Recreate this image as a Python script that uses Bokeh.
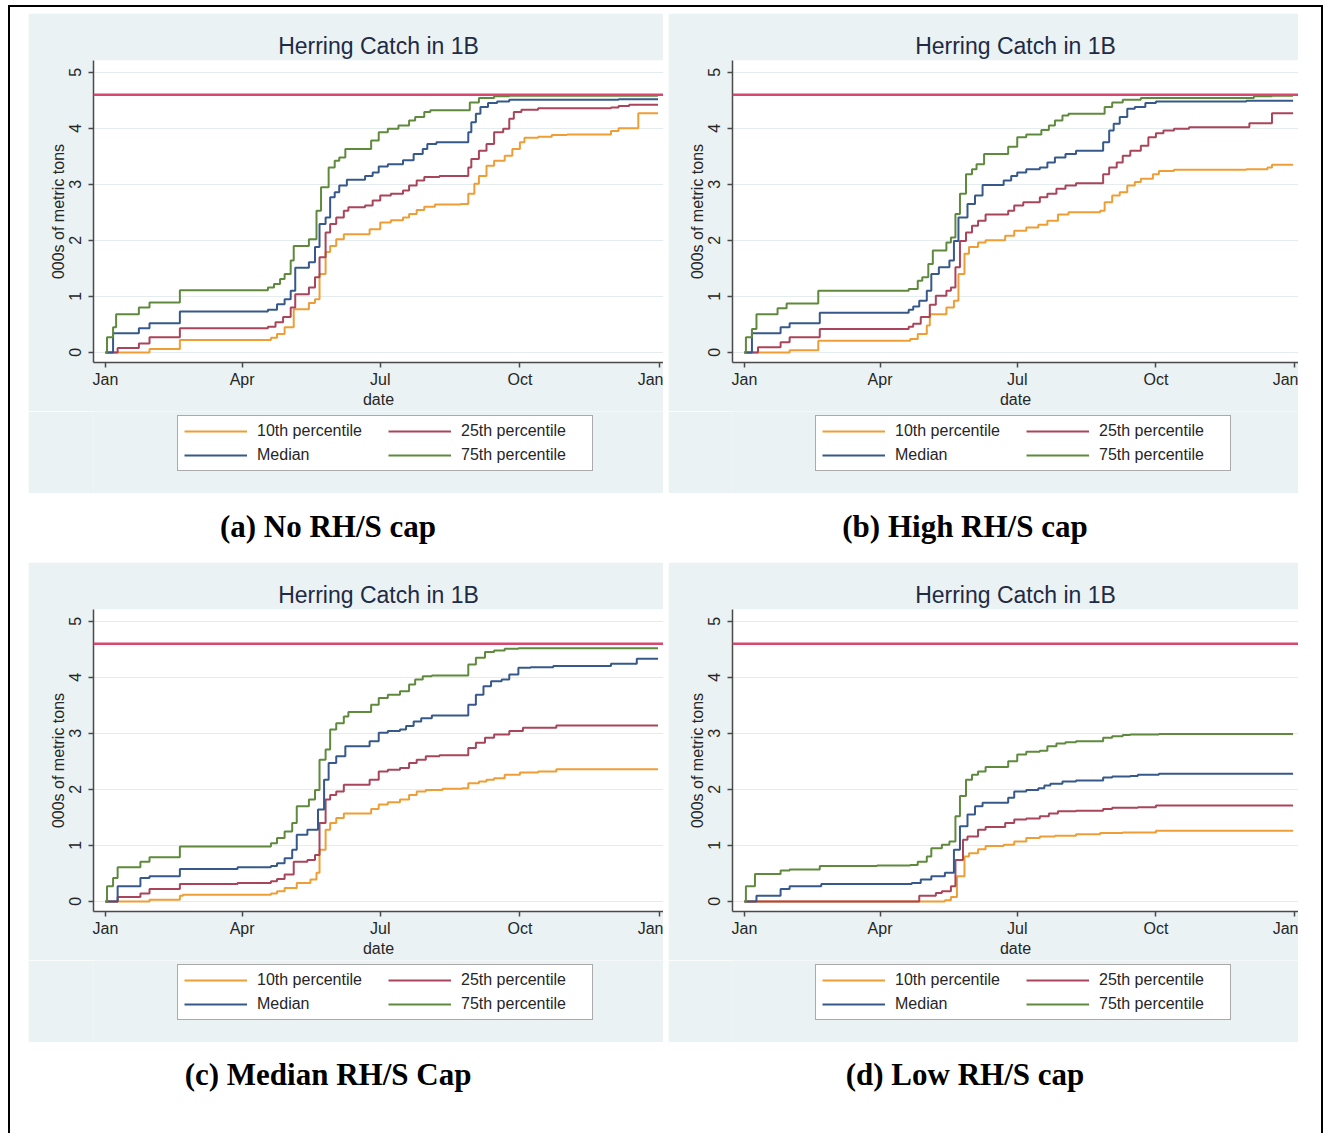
from bokeh.plotting import figure
from bokeh.models import Range1d, FixedTicker, Span, Legend, LegendItem, Div
from bokeh.layouts import column, row
from bokeh.embed import file_html
from bokeh.resources import INLINE

# ---------------- data ----------------
tick_days = [0, 90, 181, 273, 365]
tick_labels = ["Jan", "Apr", "Jul", "Oct", "Jan"]
y_ticks = [0, 1, 2, 3, 4, 5]
cap_value = 4.6
series_names = ["10th percentile", "25th percentile", "Median", "75th percentile"]
captions = ["(a) No RH/S cap", "(b) High RH/S cap", "(c) Median RH/S Cap", "(d) Low RH/S cap"]
chart_title = "Herring Catch in 1B"
x_label = "date"
y_label = "000s of metric tons"

# (a) No RH/S cap
a_p10_days = [0, 29, 49, 109, 113, 118, 124, 134, 138, 141, 145, 148, 152, 157, 174, 181, 188, 196, 200, 205, 210, 217, 234, 239, 243, 246, 251, 256, 263, 268, 273, 276, 285, 294, 304, 333, 338, 351, 364]
a_p10_vals = [0, 0.06, 0.22, 0.26, 0.33, 0.45, 0.77, 0.88, 0.95, 1.40, 1.79, 1.90, 2.02, 2.11, 2.20, 2.32, 2.36, 2.41, 2.47, 2.54, 2.60, 2.64, 2.65, 2.83, 3.01, 3.15, 3.33, 3.42, 3.51, 3.63, 3.75, 3.83, 3.85, 3.88, 3.89, 3.95, 4.00, 4.27, 4.27]
a_p25_days = [0, 8, 22, 29, 49, 107, 112, 117, 122, 125, 134, 138, 141, 145, 148, 152, 157, 160, 171, 176, 181, 188, 196, 200, 205, 210, 220, 239, 241, 246, 251, 256, 262, 266, 269, 274, 285, 333, 338, 345, 364]
a_p25_vals = [0, 0.08, 0.16, 0.27, 0.43, 0.46, 0.54, 0.63, 0.80, 1.04, 1.16, 1.34, 1.70, 2.14, 2.29, 2.41, 2.53, 2.59, 2.62, 2.71, 2.80, 2.83, 2.89, 2.98, 3.07, 3.13, 3.15, 3.30, 3.45, 3.60, 3.72, 3.93, 3.99, 4.17, 4.29, 4.33, 4.36, 4.37, 4.40, 4.42, 4.42]
a_p50_days = [0, 5, 22, 29, 49, 107, 113, 118, 122, 125, 134, 138, 141, 145, 148, 151, 154, 159, 171, 176, 180, 186, 196, 203, 209, 212, 218, 239, 241, 244, 247, 252, 258, 266, 338, 364]
a_p50_vals = [0, 0.34, 0.43, 0.52, 0.73, 0.76, 0.86, 0.95, 1.10, 1.51, 1.61, 1.88, 2.29, 2.41, 2.77, 2.86, 2.98, 3.08, 3.15, 3.21, 3.32, 3.36, 3.43, 3.54, 3.63, 3.72, 3.75, 3.93, 4.11, 4.26, 4.38, 4.45, 4.48, 4.51, 4.52, 4.52]
a_p75_days = [0, 1, 5, 7, 22, 29, 49, 107, 111, 115, 118, 122, 124, 134, 139, 142, 147, 151, 154, 158, 175, 180, 186, 193, 200, 204, 210, 214, 240, 246, 256, 266, 364]
a_p75_vals = [0, 0.27, 0.45, 0.68, 0.80, 0.89, 1.11, 1.16, 1.22, 1.31, 1.40, 1.64, 1.90, 2.02, 2.53, 2.95, 3.30, 3.42, 3.48, 3.63, 3.78, 3.93, 3.99, 4.05, 4.14, 4.20, 4.29, 4.32, 4.46, 4.54, 4.57, 4.58, 4.58]

# (b) High RH/S cap
b_p10_days = [0, 30, 49, 110, 115, 121, 123, 134, 139, 142, 146, 149, 155, 160, 173, 179, 187, 195, 201, 208, 215, 236, 239, 244, 249, 254, 259, 263, 271, 275, 285, 333, 347, 350, 364]
b_p10_vals = [0, 0.04, 0.21, 0.24, 0.33, 0.48, 0.68, 0.80, 0.92, 1.40, 1.76, 1.88, 1.96, 2.00, 2.08, 2.17, 2.23, 2.28, 2.35, 2.46, 2.50, 2.53, 2.68, 2.80, 2.86, 2.98, 3.04, 3.10, 3.18, 3.24, 3.26, 3.27, 3.30, 3.35, 3.35]
b_p25_days = [0, 9, 24, 30, 50, 109, 112, 117, 123, 127, 134, 137, 140, 143, 147, 151, 155, 160, 175, 179, 185, 196, 201, 207, 213, 220, 238, 242, 247, 251, 256, 263, 268, 273, 278, 285, 295, 335, 350, 364]
b_p25_vals = [0, 0.09, 0.18, 0.27, 0.42, 0.46, 0.51, 0.63, 0.85, 1.01, 1.10, 1.16, 1.52, 1.99, 2.14, 2.26, 2.35, 2.46, 2.53, 2.62, 2.68, 2.77, 2.83, 2.92, 2.98, 3.02, 3.18, 3.30, 3.39, 3.51, 3.60, 3.69, 3.84, 3.91, 3.96, 3.99, 4.02, 4.09, 4.27, 4.27]
b_p50_days = [0, 5, 24, 30, 50, 109, 112, 116, 121, 124, 129, 136, 139, 142, 148, 153, 158, 172, 177, 181, 187, 196, 201, 206, 213, 220, 238, 242, 245, 249, 254, 259, 266, 273, 333, 364]
b_p50_vals = [0, 0.34, 0.45, 0.52, 0.71, 0.76, 0.82, 0.92, 1.10, 1.40, 1.52, 1.64, 1.99, 2.41, 2.65, 2.80, 2.99, 3.07, 3.15, 3.21, 3.27, 3.30, 3.39, 3.48, 3.54, 3.60, 3.75, 3.96, 4.08, 4.20, 4.35, 4.38, 4.45, 4.48, 4.49, 4.49]
b_p75_days = [0, 1, 5, 8, 22, 28, 49, 109, 115, 118, 122, 125, 134, 137, 140, 143, 147, 151, 154, 159, 175, 181, 187, 197, 202, 206, 211, 215, 239, 244, 251, 263, 338, 350, 364]
b_p75_vals = [0, 0.27, 0.42, 0.68, 0.79, 0.875, 1.10, 1.13, 1.28, 1.34, 1.58, 1.82, 1.96, 2.05, 2.47, 2.83, 3.18, 3.27, 3.36, 3.54, 3.67, 3.84, 3.89, 3.97, 4.05, 4.14, 4.23, 4.26, 4.38, 4.46, 4.51, 4.54, 4.57, 4.58, 4.58]

# (c) Median RH/S Cap
c_p10_days = [0, 29, 49, 51, 109, 113, 118, 126, 135, 139, 141, 145, 148, 152, 157, 175, 180, 186, 194, 200, 205, 211, 222, 235, 239, 246, 251, 256, 263, 273, 285, 297, 364]
c_p10_vals = [0, 0.03, 0.10, 0.12, 0.14, 0.18, 0.24, 0.33, 0.39, 0.51, 0.92, 1.28, 1.40, 1.49, 1.57, 1.65, 1.73, 1.77, 1.82, 1.90, 1.96, 1.99, 2.01, 2.02, 2.11, 2.14, 2.17, 2.20, 2.26, 2.30, 2.32, 2.36, 2.36]
c_p25_days = [0, 8, 23, 29, 49, 87, 109, 113, 118, 124, 133, 138, 141, 145, 148, 152, 157, 174, 180, 186, 194, 200, 205, 211, 220, 239, 244, 250, 256, 266, 275, 297, 364]
c_p25_vals = [0, 0.08, 0.14, 0.22, 0.31, 0.33, 0.36, 0.40, 0.48, 0.71, 0.74, 0.83, 1.40, 1.82, 1.90, 1.96, 2.08, 2.17, 2.32, 2.35, 2.38, 2.47, 2.53, 2.59, 2.61, 2.74, 2.83, 2.92, 2.98, 3.04, 3.10, 3.14, 3.14]
c_p50_days = [0, 8, 23, 29, 49, 87, 109, 113, 118, 123, 126, 133, 140, 144, 147, 152, 158, 174, 180, 186, 194, 198, 203, 208, 215, 239, 244, 249, 254, 261, 266, 272, 280, 295, 333, 350, 364]
c_p50_vals = [0, 0.27, 0.42, 0.45, 0.58, 0.61, 0.63, 0.68, 0.77, 0.92, 1.19, 1.28, 1.64, 2.17, 2.47, 2.59, 2.77, 2.86, 3.01, 3.04, 3.07, 3.13, 3.21, 3.27, 3.32, 3.51, 3.69, 3.84, 3.93, 3.96, 4.05, 4.17, 4.18, 4.20, 4.24, 4.33, 4.33]
c_p75_days = [0, 1, 5, 8, 23, 29, 49, 109, 113, 118, 123, 126, 134, 138, 141, 145, 148, 152, 157, 160, 175, 180, 186, 194, 200, 204, 209, 215, 239, 244, 250, 256, 263, 272, 364]
c_p75_vals = [0, 0.27, 0.42, 0.61, 0.71, 0.79, 0.98, 1.04, 1.13, 1.25, 1.40, 1.70, 1.82, 1.99, 2.53, 2.71, 3.07, 3.18, 3.30, 3.38, 3.51, 3.63, 3.69, 3.75, 3.87, 3.96, 4.02, 4.03, 4.23, 4.35, 4.45, 4.48, 4.51, 4.52, 4.52]

# (d) Low RH/S cap
d_p10_days = [0, 133, 137, 141, 146, 149, 155, 160, 172, 179, 187, 196, 206, 220, 236, 251, 273, 364]
d_p10_vals = [0, 0.02, 0.08, 0.45, 0.80, 0.86, 0.93, 0.99, 1.01, 1.07, 1.13, 1.16, 1.17, 1.20, 1.22, 1.23, 1.26, 1.26]
d_p25_days = [0, 116, 127, 131, 137, 140, 145, 148, 155, 160, 173, 179, 187, 196, 202, 208, 220, 238, 244, 261, 273, 364]
d_p25_vals = [0, 0.10, 0.15, 0.18, 0.27, 0.74, 1.10, 1.16, 1.28, 1.33, 1.40, 1.46, 1.48, 1.52, 1.57, 1.61, 1.62, 1.65, 1.67, 1.68, 1.71, 1.71]
d_p50_days = [0, 8, 24, 30, 51, 111, 117, 124, 133, 139, 143, 148, 153, 158, 175, 179, 187, 195, 199, 203, 211, 220, 238, 244, 256, 261, 275, 364]
d_p50_vals = [0, 0.10, 0.22, 0.27, 0.31, 0.33, 0.39, 0.45, 0.51, 0.92, 1.34, 1.55, 1.70, 1.76, 1.85, 1.96, 1.99, 2.02, 2.07, 2.10, 2.14, 2.16, 2.21, 2.23, 2.24, 2.26, 2.28, 2.28]
d_p75_days = [0, 1, 7, 24, 30, 50, 88, 110, 115, 121, 124, 131, 136, 140, 143, 147, 151, 155, 160, 175, 181, 187, 196, 201, 207, 213, 220, 238, 244, 251, 256, 275, 364]
d_p75_vals = [0, 0.27, 0.49, 0.55, 0.57, 0.63, 0.64, 0.65, 0.71, 0.80, 0.95, 1.01, 1.07, 1.52, 1.88, 2.17, 2.26, 2.32, 2.40, 2.50, 2.62, 2.67, 2.69, 2.77, 2.82, 2.84, 2.86, 2.92, 2.95, 2.97, 2.98, 2.99, 2.99]

# ---------------- styling ----------------
BG = "#eaf2f3"
COLORS = {"10th percentile": "#ee9e35", "25th percentile": "#a9445a",
          "Median": "#36588a", "75th percentile": "#5f8a3d"}
CAP_COLOR = "#d8476f"
AXIS_COLOR = "#4a4a4a"
TEXT_COLOR = "#262626"
FONT = "Liberation Sans"
LEGEND_ORDER = ["10th percentile", "Median", "25th percentile", "75th percentile"]
PLOT_H = 398
LEG_H = 82


def make_plot(series, width, left):
    p = figure(width=width, height=PLOT_H,
               x_range=Range1d(-7.9, 367.6), y_range=Range1d(-0.18, 5.21),
               output_backend="svg", toolbar_location=None,
               min_border_left=left, min_border_right=0,
               min_border_top=47, min_border_bottom=49,
               background_fill_color="white", border_fill_color=BG,
               outline_line_color=None, title=chart_title)
    p.title.align = "center"
    p.title.offset = 4
    p.title.text_font = FONT
    p.title.text_font_size = "23px"
    p.title.text_font_style = "normal"
    p.title.text_color = "#1f2a44"
    p.title.standoff = 4

    p.xgrid.visible = False
    p.ygrid.ticker = FixedTicker(ticks=y_ticks)
    p.ygrid.grid_line_color = "#e4ecee"
    p.ygrid.grid_line_width = 1

    for ax in (p.xaxis[0], p.yaxis[0]):
        ax.axis_line_color = AXIS_COLOR
        ax.axis_line_width = 1.5
        ax.major_tick_line_color = AXIS_COLOR
        ax.major_tick_line_width = 1.5
        ax.major_tick_out = 5
        ax.major_tick_in = 0
        ax.minor_tick_line_color = None
        ax.major_label_text_font = FONT
        ax.major_label_text_font_size = "16px"
        ax.major_label_text_color = TEXT_COLOR
        ax.axis_label_text_font = FONT
        ax.axis_label_text_font_size = "16px"
        ax.axis_label_text_font_style = "normal"
        ax.axis_label_text_color = TEXT_COLOR
        ax.axis_label_standoff = 0

    p.xaxis.ticker = FixedTicker(ticks=tick_days)
    p.xaxis.major_label_overrides = {d: lab for d, lab in zip(tick_days, tick_labels)}
    p.xaxis.axis_label = x_label
    p.xaxis.major_label_standoff = 3
    p.yaxis.ticker = FixedTicker(ticks=y_ticks)
    p.yaxis.major_label_orientation = "vertical"
    p.yaxis.major_label_standoff = 7
    p.yaxis.axis_label = y_label

    for name, days, vals in series:
        p.step(days, vals, mode="after", line_color=COLORS[name], line_width=2)

    p.add_layout(Span(location=cap_value, dimension="width",
                      line_color=CAP_COLOR, line_width=2.5))
    return p


def make_legend(series, width, box_left):
    # strip under the plot that only carries the legend box; its x range lies
    # beyond the data, so the series drawn here serve only as legend keys
    q = figure(width=width, height=LEG_H, x_range=Range1d(1000, 1001), y_range=Range1d(0, 1),
               output_backend="svg", toolbar_location=None, min_border=0,
               x_axis_location=None, y_axis_location=None,
               background_fill_color=BG, border_fill_color=BG, outline_line_color=None)
    q.grid.visible = False
    rends = {}
    for name, days, vals in series:
        rends[name] = q.line(days, vals, line_color=COLORS[name], line_width=2)
    items = [LegendItem(label=n, renderers=[rends[n]]) for n in LEGEND_ORDER]
    legend = Legend(items=items, location=(box_left, 22), orientation="vertical", ncols=2,
                    label_text_font=FONT, label_text_font_size="16px",
                    label_text_color=TEXT_COLOR,
                    glyph_width=63, glyph_height=18, label_height=18,
                    label_width=125, label_standoff=10, spacing=6, padding=6,
                    border_line_color="#555555", border_line_width=1.5,
                    background_fill_color="white", background_fill_alpha=1.0,
                    margin=0)
    q.add_layout(legend)
    return q


def series_of(p10d, p10v, p25d, p25v, p50d, p50v, p75d, p75v):
    return [("10th percentile", p10d, p10v), ("25th percentile", p25d, p25v),
            ("Median", p50d, p50v), ("75th percentile", p75d, p75v)]


def panel(series, width, left, box_left, margin):
    return column(make_plot(series, width, left), make_legend(series, width, box_left),
                  margin=margin)


pa = panel(series_of(a_p10_days, a_p10_vals, a_p25_days, a_p25_vals,
                     a_p50_days, a_p50_vals, a_p75_days, a_p75_vals), 635, 65, 84, (6, 0, 0, 18))
pb = panel(series_of(b_p10_days, b_p10_vals, b_p25_days, b_p25_vals,
                     b_p50_days, b_p50_vals, b_p75_days, b_p75_vals), 630, 64, 83, (6, 0, 0, 5))
pc = panel(series_of(c_p10_days, c_p10_vals, c_p25_days, c_p25_vals,
                     c_p50_days, c_p50_vals, c_p75_days, c_p75_vals), 635, 65, 84, (0, 0, 0, 18))
pd = panel(series_of(d_p10_days, d_p10_vals, d_p25_days, d_p25_vals,
                     d_p50_days, d_p50_vals, d_p75_days, d_p75_vals), 630, 64, 83, (0, 0, 0, 5))

CAP_STYLE = ("font-family:'Liberation Serif','Times New Roman',serif;font-weight:bold;"
             "font-size:31px;line-height:31px;text-align:center;color:#000;white-space:nowrap;")


def caption(text, width, left, pad):
    return Div(text=f'<div style="{CAP_STYLE}width:{width}px;padding-top:{pad}px;">{text}</div>',
               width=width, height=69, margin=(0, 0, 0, left))


row1 = row(pa, pb)
row2 = row(caption(captions[0], 600, 18, 18), caption(captions[1], 594, 40, 18))
row3 = row(pc, pd)
row4 = row(caption(captions[2], 600, 18, 17), caption(captions[3], 594, 40, 17))

root = column(row1, row2, row3, row4, width=1315, height=1128,
              margin=(5, 0, 0, 8),
              styles={"border-left": "2px solid #000", "border-top": "2px solid #000",
                      "border-right": "2px solid #000", "box-sizing": "border-box",
                      "background-color": "white"})

html = file_html(root, INLINE, title="Herring Catch in 1B")
with open("out.html", "w") as f:
    f.write(html)
